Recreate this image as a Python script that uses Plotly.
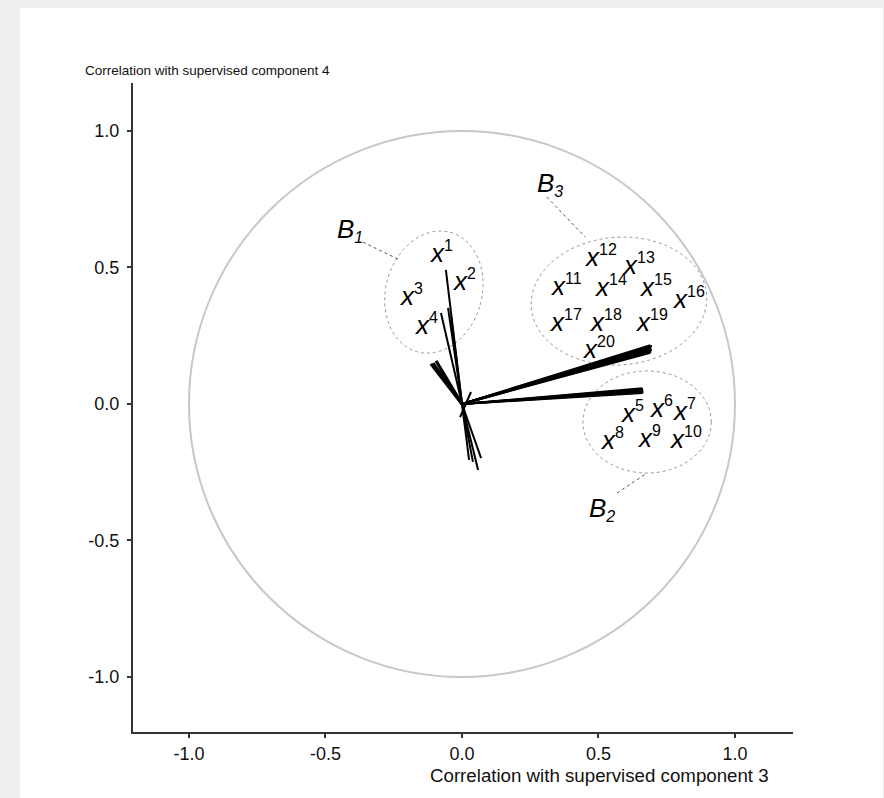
import numpy as np
import plotly.graph_objects as go

# ---------------- data ----------------
# block B1 vectors (variables x1..x4) : upper tips and lower tips, from origin
b1_tip_x = [-0.059, -0.077, -0.051, -0.040]
b1_tip_y = [0.491, 0.333, 0.352, 0.322]
low_tip_x = [0.026, 0.040, 0.059, 0.070]
low_tip_y = [-0.205, -0.212, -0.242, -0.198]
# up-left short bundle
ul_tip_x = [-0.114, -0.106, -0.095]
ul_tip_y = [0.147, 0.150, 0.158]
# short crossing stub
stub_x = [0.033, -0.007]
stub_y = [0.044, -0.048]
# block B3 fan (x11..x20)
b3_tip_x = [0.690, 0.693, 0.688, 0.695, 0.691, 0.694, 0.689, 0.692, 0.696, 0.690]
b3_tip_y = [0.188, 0.192, 0.194, 0.198, 0.200, 0.204, 0.207, 0.209, 0.213, 0.215]
# block B2 fan (x5..x10)
b2_tip_x = [0.662, 0.665, 0.660, 0.664, 0.663, 0.661]
b2_tip_y = [0.040, 0.044, 0.047, 0.051, 0.055, 0.058]

# variable labels (centre of the x glyph)
var_names = [str(i) for i in range(1, 21)]
var_x = [-0.092, -0.007, -0.201, -0.147,
         0.608, 0.714, 0.799, 0.535, 0.670, 0.788,
         0.352, 0.476, 0.615, 0.513, 0.678, 0.799, 0.348, 0.495, 0.663, 0.469]
var_y = [0.553, 0.447, 0.392, 0.289,
         -0.033, -0.015, -0.027, -0.132, -0.125, -0.131,
         0.429, 0.535, 0.509, 0.425, 0.425, 0.381, 0.297, 0.300, 0.297, 0.198]

# block labels
block_names = ["1", "2", "3"]
block_x = [-0.428, 0.495, 0.303]
block_y = [0.642, -0.381, 0.810]

# leader lines (from label to ellipse)
lead_x0 = [-0.363, 0.568, 0.311]
lead_y0 = [0.593, -0.326, 0.758]
lead_x1 = [-0.227, 0.678, 0.451]
lead_y1 = [0.527, -0.253, 0.612]

# ellipses: centre, semi-axes, rotation (deg)
ell_cx = [-0.103, 0.678, 0.575]
ell_cy = [0.410, -0.066, 0.377]
ell_a = [0.176, 0.235, 0.322]
ell_b = [0.227, 0.187, 0.234]
ell_rot = [-15.6, 0.0, 4.0]

x_ticks = [-1.0, -0.5, 0.0, 0.5, 1.0]
x_ticklabels = ["-1.0", "-0.5", "0.0", "0.5", "1.0"]
y_ticks = [-1.0, -0.5, 0.0, 0.5, 1.0]
y_ticklabels = ["-1.0", "-0.5", "0.0", "0.5", "1.0"]

FONT = "Liberation Sans, Arial, sans-serif"

fig = go.Figure()


def seg_trace(xs0, ys0, xs1, ys1, width):
    xx, yy = [], []
    for a, b, c, d in zip(xs0, ys0, xs1, ys1):
        xx += [a, c, None]
        yy += [b, d, None]
    return go.Scatter(x=xx, y=yy, mode="lines", line=dict(color="black", width=width),
                      hoverinfo="skip", showlegend=False)


n = len(b1_tip_x)
fig.add_trace(seg_trace([0] * n, [0] * n, b1_tip_x, b1_tip_y, 2))
n = len(low_tip_x)
fig.add_trace(seg_trace([0] * n, [0] * n, low_tip_x, low_tip_y, 2))
n = len(ul_tip_x)
fig.add_trace(seg_trace([0] * n, [0] * n, ul_tip_x, ul_tip_y, 3))
fig.add_trace(seg_trace([stub_x[0]], [stub_y[0]], [stub_x[1]], [stub_y[1]], 2))
n = len(b3_tip_x)
fig.add_trace(seg_trace([0] * n, [0] * n, b3_tip_x, b3_tip_y, 2))
n = len(b2_tip_x)
fig.add_trace(seg_trace([0] * n, [0] * n, b2_tip_x, b2_tip_y, 2))

shapes = []
# white panel over grey page
shapes.append(dict(type="rect", xref="paper", yref="paper", x0=-0.1712, x1=1.1364,
                   y0=-0.12, y1=1.1156, fillcolor="white", line=dict(width=0), layer="below"))
# unit circle
shapes.append(dict(type="circle", xref="x", yref="y", x0=-1, y0=-1, x1=1, y1=1,
                   line=dict(color="#c8c8c8", width=2), layer="below"))
# ellipses
t = np.linspace(0, 2 * np.pi, 120)
for cx, cy, a, b, r in zip(ell_cx, ell_cy, ell_a, ell_b, ell_rot):
    rr = np.deg2rad(r)
    ex = cx + a * np.cos(t) * np.cos(rr) - b * np.sin(t) * np.sin(rr)
    ey = cy + a * np.cos(t) * np.sin(rr) + b * np.sin(t) * np.cos(rr)
    path = "M " + " L ".join(f"{px:.4f},{py:.4f}" for px, py in zip(ex, ey)) + " Z"
    shapes.append(dict(type="path", xref="x", yref="y", path=path,
                       line=dict(color="#9a9a9a", width=1, dash="dot"), layer="below"))
for a, b, c, d in zip(lead_x0, lead_y0, lead_x1, lead_y1):
    shapes.append(dict(type="line", xref="x", yref="y", x0=a, y0=b, x1=c, y1=d,
                       line=dict(color="#555555", width=1, dash="dot")))

annotations = []
for name, x, y in zip(var_names, var_x, var_y):
    annotations.append(dict(x=x, y=y, xref="x", yref="y", showarrow=False,
                            text=f"<i>x</i><sup><span style='font-size:16px'>{name}</span></sup>",
                            xanchor="left", yanchor="middle",
                            xshift=-10, yshift=1,
                            font=dict(family=FONT, size=26, color="black")))
for name, x, y in zip(block_names, block_x, block_y):
    annotations.append(dict(x=x, y=y, xref="x", yref="y", showarrow=False,
                            text=f"<i>B<sub><span style='font-size:16px'>{name}</span></sub></i>",
                            xanchor="left", yanchor="middle",
                            xshift=-10, yshift=-1,
                            font=dict(family=FONT, size=26, color="black")))
annotations.append(dict(x=-0.0758, y=1.0185, xref="paper", yref="paper", showarrow=False,
                        text="Correlation with supervised component 4", xanchor="left",
                        yanchor="middle", font=dict(family=FONT, size=13.5, color="#111111")))
annotations.append(dict(x=0.9667, y=-0.0663, xref="paper", yref="paper", showarrow=False,
                        text="Correlation with supervised component 3", xanchor="right",
                        yanchor="middle", font=dict(family=FONT, size=18.7, color="#111111")))

axis_common = dict(showgrid=False, zeroline=False, showline=True, linecolor="#333333",
                   linewidth=2, ticks="outside", ticklen=4, tickwidth=1.5, tickcolor="#333333",
                   tickfont=dict(family=FONT, size=18, color="#111111"))

fig.update_layout(
    width=884, height=798,
    margin=dict(l=133, r=91, t=83, b=66),
    paper_bgcolor="#efefef",
    plot_bgcolor="rgba(0,0,0,0)",
    shapes=shapes,
    annotations=annotations,
    showlegend=False,
    xaxis=dict(range=[-1.2051, 1.2125], tickvals=x_ticks, ticktext=x_ticklabels, **axis_common),
    yaxis=dict(range=[-1.2015, 1.1758], tickvals=y_ticks, ticktext=y_ticklabels,
               ticklabelstandoff=4, **axis_common),
)

fig.write_html("out.html")
